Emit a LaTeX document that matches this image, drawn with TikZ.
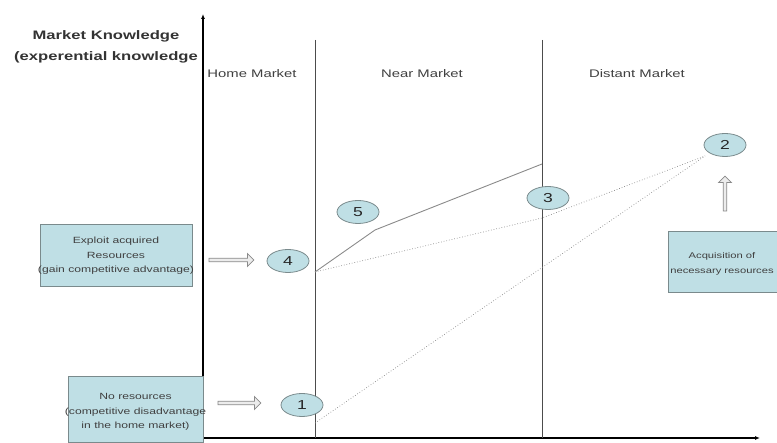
\documentclass[tikz,border=0pt]{standalone}
\usepackage{fontspec}
\setmainfont{Liberation Sans}[FakeStretch=1.35]
\usetikzlibrary{arrows.meta,shapes.arrows,shapes.geometric}
\definecolor{boxfill}{HTML}{BFDFE5}
\definecolor{boxline}{HTML}{7A8A8C}
\definecolor{linegray}{HTML}{8A8A8A}
\tikzset{
  infobox/.style={draw=boxline, line width=1pt, fill=boxfill, inner sep=0pt},
  boxtext/.style={align=center, font=\fontsize{9}{14.5}\selectfont, text=black!75, inner sep=0pt},
  numell/.style={ellipse, draw=boxline, line width=0.8pt, fill=boxfill, minimum width=42pt, minimum height=23pt, inner sep=0pt, font=\fontsize{13}{13}\selectfont, text=black!85},
  hollow/.style={single arrow, draw=linegray, fill=gray!15, line width=0.7pt, minimum height=#1, minimum width=13pt, single arrow head extend=3.5pt, inner sep=1pt, single arrow tip angle=90},
  mlabel/.style={font=\fontsize{11}{12}\selectfont, text=black!75},
  divider/.style={draw=black!70, line width=0.8pt},
  pathsolid/.style={draw=linegray, line width=0.9pt},
  pathdot/.style={draw=linegray, line width=0.7pt, dotted}
}
\begin{document}
\begin{tikzpicture}[x=1pt,y=-1pt]
\useasboundingbox (0,0) rectangle (777,443);
% axes
\coordinate (origin) at (203,438);
\coordinate (ytop) at (203,14);
\coordinate (xend) at (760,438);
\draw[line width=1.3pt, -{Latex[length=5pt,width=4pt]}] (origin) -- (ytop);
\draw[line width=1.3pt, -{Latex[length=5pt,width=4pt]}] (origin) -- (xend);
% dividers
\coordinate (d1t) at (315,40); \coordinate (d1b) at (315,438);
\coordinate (d2t) at (542,40); \coordinate (d2b) at (542,438);
\draw[divider] (d1t) -- (d1b);
\draw[divider] (d2t) -- (d2b);
% axis title
\node[font=\bfseries\fontsize{12.3}{21}\selectfont, align=center, text=black!80] (ytitle) at (106,47) {Market Knowledge\\(experential knowledge};
% market labels
\node[mlabel] (home) at (252,74) {Home Market};
\node[mlabel] (near) at (422,74) {Near Market};
\node[mlabel] (dist) at (637,74) {Distant Market};
% path points
\coordinate (p4) at (315,272);
\coordinate (k5) at (375,230);
\coordinate (p3t) at (542,164);
\coordinate (p3) at (542,218);
\coordinate (p2) at (705,156);
\coordinate (p1) at (315,423);
\draw[pathsolid] (p4) -- (k5) -- (p3t);
\draw[pathdot] (p4) -- (p3) -- (p2);
\draw[pathdot] (p1) -- (p2);
% ellipses
\node[numell] (e4) at (288,261) {4};
\node[numell] (e1) at (302,405) {1};
\node[numell] (e5) at (358,212) {5};
\node[numell] (e3) at (548,198) {3};
\node[numell] (e2) at (725,145) {2};
% boxes
\node[infobox, minimum width=152pt, minimum height=62pt] (b4) at (116,256) {};
\node[boxtext] (t4) at (116,256) {Exploit acquired\\Resources\\(gain competitive advantage)};
\node[infobox, minimum width=135pt, minimum height=66pt] (b1) at (135.5,410) {};
\node[boxtext] (t1) at (135.5,412) {No resources\\(competitive disadvantage\\in the home market)};
\node[infobox, minimum width=120pt, minimum height=61pt, anchor=west] (b2) at (668,262.5) {};
\node[boxtext, font=\fontsize{8.3}{14.5}\selectfont] (t2) at (722,264) {Acquisition of\\necessary resources};
% hollow arrows
\node[hollow=45pt] (a4) at (230.5,260) {};
\node[hollow=43pt] (a1) at (238.5,403) {};
\node[hollow=35pt, rotate=90] (a2) at (725,194.5) {};
\end{tikzpicture}
\end{document}
